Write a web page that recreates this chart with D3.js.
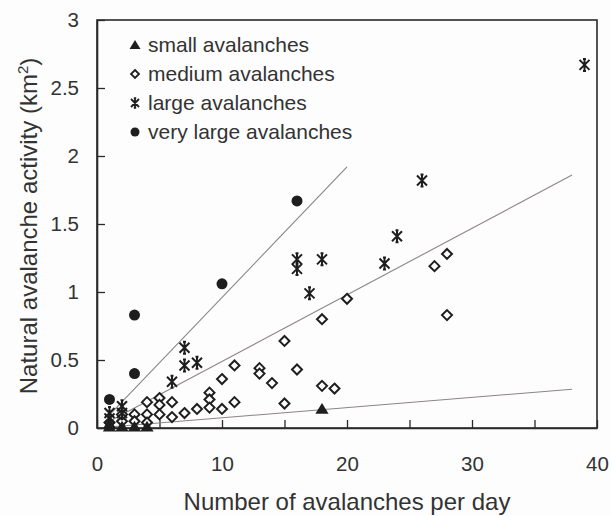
<!DOCTYPE html>
<html>
<head>
<meta charset="utf-8">
<script src="https://cdn.jsdelivr.net/npm/d3@7"></script>
<style>
  body { margin: 0; background: #fdfdfd; }
  svg { display: block; font-family: "Liberation Sans", Arial, sans-serif; }
</style>
</head>
<body>
<div id="container"></div>
<script>
// values: [avalanches per day, activity km2]
const smallAval = [[1, 0.01], [2, 0.01], [3, 0.01], [4, 0.01], [1, 0.03], [18, 0.14]];
const mediumAval = [
  [28, 1.28], [27, 1.19], [28, 0.83], [20, 0.95], [18, 0.80], [15, 0.64], [16, 0.43],
  [14, 0.33], [18, 0.31], [19, 0.29], [15, 0.18], [11, 0.46], [13, 0.44], [13, 0.40],
  [10, 0.36], [9, 0.26], [9, 0.21], [9, 0.15], [11, 0.19], [10, 0.14], [8, 0.14],
  [7, 0.11], [6, 0.08], [6, 0.19], [5, 0.22], [5, 0.17], [5, 0.10], [4, 0.19],
  [4, 0.10], [3, 0.10], [3, 0.05], [2, 0.05], [2, 0.10], [1, 0.04], [4, 0.04]
];
const largeAval = [
  [39, 2.67], [26, 1.82], [24, 1.41], [16, 1.24], [16, 1.17], [18, 1.24], [23, 1.21],
  [17, 0.99], [7, 0.59], [7, 0.46], [8, 0.48], [6, 0.34], [2, 0.16], [1, 0.11],
  [1, 0.07], [2, 0.11]
];
const veryLargeAval = [[1, 0.21], [3, 0.40], [3, 0.83], [10, 1.06], [16, 1.67]];

// fitted lines, start and end points
const trendVeryLarge = [[1, 0.096], [20, 1.92]];
const trendLarge = [[1, 0.049], [38, 1.86]];
const trendSmall = [[1, 0.007], [38, 0.285]];

const legendLabels = ["small avalanches", "medium avalanches", "large avalanches", "very large avalanches"];
const yTicks = [0, 0.5, 1, 1.5, 2, 2.5, 3];
const xTicks = [0, 5, 10, 15, 20, 25, 30, 35, 40];

const W = 611, H = 516;
const ink = "#1e1e1e", textCol = "#333";

const svg = d3.select("#container").append("svg")
  .attr("width", W).attr("height", H);
svg.append("rect").attr("width", W).attr("height", H).attr("fill", "#fdfdfd");

const x = d3.scaleLinear().domain([0, 40]).range([97, 597]);
const y = d3.scaleLinear().domain([0, 3]).range([428, 20]);

// box
svg.append("rect")
  .attr("x", x(0)).attr("y", y(3))
  .attr("width", x(40) - x(0)).attr("height", y(0) - y(3))
  .attr("fill", "none").attr("stroke", "#2a2a2a").attr("stroke-width", 1.6);

const yAxis = svg.append("g")
  .attr("transform", "translate(" + x(0) + ",0)")
  .call(d3.axisLeft(y).tickValues(yTicks).tickSizeInner(-8).tickSizeOuter(0)
    .tickPadding(18).tickFormat(d3.format("")));
const xAxis = svg.append("g")
  .attr("transform", "translate(0," + y(0) + ")")
  .call(d3.axisBottom(x).tickValues(xTicks).tickSizeInner(-8).tickSizeOuter(0)
    .tickPadding(28).tickFormat(d => d % 10 === 0 ? d : ""));

[yAxis, xAxis].forEach(g => {
  g.select(".domain").attr("stroke", "#2a2a2a").attr("stroke-width", 1.6);
  g.selectAll(".tick line").attr("stroke", "#2a2a2a").attr("stroke-width", 1.3);
  g.selectAll("text").attr("font-size", 20.5).attr("fill", textCol)
    .attr("font-family", "Liberation Sans, Arial, sans-serif");
});

// axis titles
svg.append("text")
  .attr("x", (x(0) + x(40)) / 2).attr("y", 510)
  .attr("text-anchor", "middle").attr("font-size", 24).attr("fill", textCol)
  .text("Number of avalanches per day");

const yt = svg.append("text")
  .attr("transform", "translate(37," + ((y(0) + y(3)) / 2 + 2) + ") rotate(-90)")
  .attr("text-anchor", "middle").attr("font-size", 24).attr("fill", textCol);
yt.append("tspan").text("Natural avalanche activity (km");
yt.append("tspan").attr("dy", -9).attr("font-size", 15).text("2");
yt.append("tspan").attr("dy", 9).text(")");

// trend lines
const line = d3.line().x(d => x(d[0])).y(d => y(d[1]));
[trendVeryLarge, trendLarge, trendSmall].forEach(t => {
  svg.append("path").attr("d", line(t))
    .attr("fill", "none").attr("stroke", "#8c8484").attr("stroke-width", 1.1);
});

// marker shapes
function starPath(s) {
  return "M" + (-s) + "," + (-s) + "L" + s + "," + s +
    "M" + (-s) + "," + s + "L" + s + "," + (-s) +
    "M0," + (-s * 1.2) + "L0," + (s * 1.2) +
    "M" + (-s * 0.3) + "," + (-s * 1.2) + "L" + (s * 0.3) + "," + (-s * 1.2) +
    "M" + (-s * 0.3) + "," + (s * 1.2) + "L" + (s * 0.3) + "," + (s * 1.2);
}
function diamondPath(s) {
  return "M0," + (-s) + "L" + s + ",0L0," + s + "L" + (-s) + ",0Z";
}
function triPath(s) {
  return "M0," + (-s) + "L" + (s * 1.1) + "," + (s * 0.8) + "L" + (-s * 1.1) + "," + (s * 0.8) + "Z";
}

function drawSeries(data, kind) {
  const g = svg.append("g");
  if (kind === "veryLarge") {
    g.selectAll("circle").data(data).enter().append("circle")
      .attr("cx", d => x(d[0])).attr("cy", d => y(d[1])).attr("r", 5.5).attr("fill", ink);
    return;
  }
  const sel = g.selectAll("path").data(data).enter().append("path")
    .attr("transform", d => "translate(" + x(d[0]) + "," + y(d[1]) + ")");
  if (kind === "small") {
    sel.attr("d", triPath(6)).attr("fill", ink);
  } else if (kind === "medium") {
    sel.attr("d", diamondPath(5)).attr("fill", "#fdfdfd").attr("stroke", ink).attr("stroke-width", 2);
  } else {
    sel.attr("d", starPath(5)).attr("fill", "none").attr("stroke", ink).attr("stroke-width", 2);
  }
}
drawSeries(mediumAval, "medium");
drawSeries(largeAval, "large");
drawSeries(smallAval, "small");
drawSeries(veryLargeAval, "veryLarge");

// legend
const lg = svg.append("g");
legendLabels.forEach((lab, i) => {
  const by = 52 + i * 29;
  const my = by - 7;
  if (i === 0) lg.append("path").attr("transform", "translate(135," + my + ")").attr("d", triPath(5)).attr("fill", ink);
  if (i === 1) lg.append("path").attr("transform", "translate(135," + my + ")").attr("d", diamondPath(4)).attr("fill", "none").attr("stroke", ink).attr("stroke-width", 1.8);
  if (i === 2) lg.append("path").attr("transform", "translate(135," + my + ")").attr("d", starPath(4)).attr("fill", "none").attr("stroke", ink).attr("stroke-width", 1.8);
  if (i === 3) lg.append("circle").attr("cx", 135).attr("cy", my).attr("r", 4.5).attr("fill", ink);
  lg.append("text").attr("x", 148).attr("y", by).attr("font-size", 21).attr("fill", textCol).text(lab);
});
</script>
</body>
</html>
